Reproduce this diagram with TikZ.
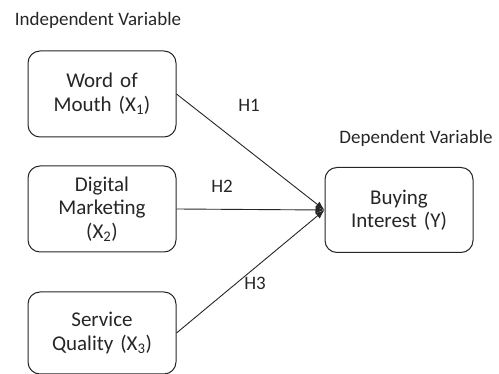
\documentclass[tikz,border=0pt]{standalone}
\usepackage{fontspec}
\setmainfont{Carlito}
\usepackage{tikz}
\usetikzlibrary{arrows.meta, positioning}

\begin{document}
\begin{tikzpicture}[
    x=1pt, y=-1pt,
    % Node styles
    varbox/.style={rectangle, draw=black!85, line width=1pt, rounded corners=12pt, fill=white, minimum width=148pt, minimum height=86pt, text width=135pt, align=center, font=\fontsize{21}{23.5}\selectfont, text=black!85},
    heading/.style={font=\fontsize{19}{21}\selectfont, text=black!85},
    hyp/.style={font=\fontsize{19}{21}\selectfont, text=black!85},
    link/.style={line width=0.9pt, black!85, -{Latex[length=9pt, width=7pt]}},
]
\useasboundingbox (0,0) rectangle (499,374);

% Headings
\node[heading] (indep) at (98, 20) {Independent Variable};
\node[heading] (dep) at (416, 138) {Dependent Variable};

% Independent variables
\node[varbox] (wom) at (102, 94) {Word of\\Mouth (X\textsubscript{1})};
\node[varbox] (dm) at (102, 209) {Digital\\Marketing\\(X\textsubscript{2})};
\node[varbox, minimum height=82pt] (sq) at (102, 333) {Service\\Quality (X\textsubscript{3})};

% Dependent variable
\node[varbox, minimum height=85pt] (bi) at (399, 210) {Buying\\Interest (Y)};

% Hypotheses
\draw[link] (wom.east) -- (bi.west);
\draw[link] (dm.east) -- (bi.west);
\draw[link] (sq.east) -- (bi.west);

% Labels for hypotheses
\node[hyp] (h1) at (249, 105) {H1};
\node[hyp] (h2) at (222, 186) {H2};
\node[hyp] (h3) at (255, 283) {H3};

\end{tikzpicture}
\end{document}
